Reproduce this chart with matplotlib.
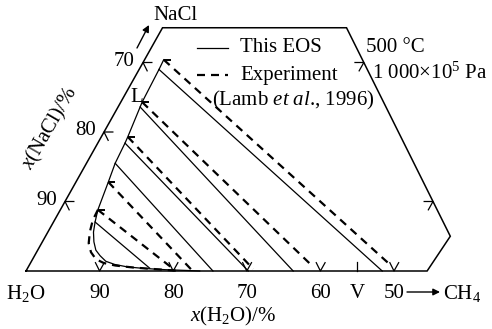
import matplotlib.pyplot as plt

plt.rcParams['font.family'] = ['Liberation Serif', 'DejaVu Serif']
plt.rcParams['mathtext.fontset'] = 'custom'
plt.rcParams['mathtext.rm'] = 'Liberation Serif'
plt.rcParams['mathtext.it'] = 'Liberation Serif:italic'
plt.rcParams['font.size'] = 15

# all compositions are (x(H2O), x(NaCl)) in %, x(CH4) is the rest
SKEW = 0.53

# liquid branch of the solvus
l_model_h = [67.0, 68.3, 72.8, 73.4, 77.1, 77.9, 80.6, 82.8, 86.1, 87.3, 88.2, 88.8, 89.1,
             88.9, 88.5, 87.5, 85.9, 83.7, 81.0, 77.7, 76.4]
l_model_n = [30.4, 29.0, 24.3, 23.6, 19.3, 18.4, 15.5, 12.8, 8.8, 7.05, 5.6, 4.2, 3.0,
             2.2, 1.4, 0.94, 0.58, 0.36, 0.19, 0.06, 0.0]
l_exp_h = [86.1, 87.5, 88.7, 89.6, 89.9, 89.7, 88.9, 87.5, 85.2, 81.7, 79.1]
l_exp_n = [8.8, 7.3, 5.6, 4.0, 2.7, 1.7, 1.15, 0.79, 0.5, 0.22, 0.0]

# tie lines, liquid end -> vapour end
tie_model_liq_h = [68.3, 73.4, 77.9, 80.6, 87.3]
tie_model_liq_n = [29.0, 23.6, 18.4, 15.5, 7.05]
tie_model_vap_h = [51.6, 63.7, 69.8, 74.6, 83.0]
tie_model_vap_n = [0.0, 0.0, 0.0, 0.0, 0.4]

tie_exp_liq_h = [67.0, 72.8, 77.1, 82.8, 86.1]
tie_exp_liq_n = [30.4, 24.3, 19.3, 12.8, 8.8]
tie_exp_vap_h = [50.1, 60.9, 69.0, 77.4, 79.7]
tie_exp_vap_n = [0.9, 1.0, 0.3, 0.1, 0.1]

# cut-out of the triangle that is shown
frame_h = [100, 45.5, 40, 40, 65, 100]
frame_n = [0, 0, 5, 35, 35, 0]

bottom_ticks = [90, 80, 70, 60, 50]
bottom_labels = ['90', '80', '70', '60', '50']
left_ticks = [10, 20, 30]
left_labels = ['90', '80', '70']
right_edge_h = 40
right_ticks = [10, 30]
vapour_h = 55

TL = 1.2  # tick length in %


def proj(h, n):
    c = 100 - h - n
    return c + SKEW * n, n


def line(ax, hs, ns, **kw):
    pts = [proj(h, n) for h, n in zip(hs, ns)]
    xs = [p[0] for p in pts]
    ys = [p[1] for p in pts]
    return ax.plot(xs, ys, color='black', **kw)


W, H = 492, 329
fig = plt.figure(figsize=(W / 100, H / 100), dpi=100)
ax = fig.add_axes([0, 0, 1, 1])
ax.set_xlim(-26 / 7.36, (W - 26) / 7.36)
ax.set_ylim(-(H - 271) / 6.95, 271 / 6.95)
ax.axis('off')

dash = (0, (3.6, 2.7))

line(ax, frame_h, frame_n, lw=1.1, solid_joinstyle='miter')
line(ax, l_model_h, l_model_n, lw=0.9)
line(ax, l_exp_h, l_exp_n, lw=1.6, linestyle=dash)

for h0, n0, h1, n1 in zip(tie_model_liq_h, tie_model_liq_n, tie_model_vap_h, tie_model_vap_n):
    line(ax, [h0, h1], [n0, n1], lw=0.9)
for h0, n0, h1, n1 in zip(tie_exp_liq_h, tie_exp_liq_n, tie_exp_vap_h, tie_exp_vap_n):
    line(ax, [h0, h1], [n0, n1], lw=1.6, linestyle=dash)
    x0, y0 = proj(h0, n0)
    ax.plot([x0], [y0], marker=1, ms=5, mew=1.4, color='black')

# ticks
for h, lbl in zip(bottom_ticks, bottom_labels):
    line(ax, [h, h, h - TL], [TL, 0, TL], lw=0.9)
    ax.annotate(lbl, proj(h, 0), xytext=(0, -16), textcoords='offset points',
                ha='center', va='center')
for n, lbl in zip(left_ticks, left_labels):
    h = 100 - n
    line(ax, [h - TL, h, h], [n, n, n - TL], lw=0.9)
    ax.annotate(lbl, proj(h, n), xytext=(-6, 1), textcoords='offset points',
                ha='right', va='center')
for n in right_ticks:
    line(ax, [right_edge_h + TL, right_edge_h, right_edge_h + TL], [n, n, n - TL], lw=0.9)

xv, _ = proj(vapour_h, 0)
ax.plot([xv, xv], [0, 1.3], color='black', lw=0.9)
ax.annotate('V', (xv, 0), xytext=(0, -16), textcoords='offset points', ha='center', va='center')
ax.annotate('H$_2$O', proj(100, 0), xytext=(0, -16), textcoords='offset points',
            ha='center', va='center')
ax.annotate('L', proj(72.8, 24.3), xytext=(-4, 3.5), textcoords='offset points',
            ha='center', va='center')

# CH4 arrow
ax.annotate('', xy=(440 / W, 1 - 292 / H), xytext=(407 / W, 1 - 292 / H),
            xycoords='figure fraction', textcoords='figure fraction',
            arrowprops=dict(arrowstyle='-|>', color='black', lw=1.0, mutation_scale=10,
                            shrinkA=0, shrinkB=0))
fig.text(443 / W, 1 - 293 / H, 'CH$_4$', ha='left', va='center')

# NaCl arrow
ax.annotate('', xy=(149 / W, 1 - 25 / H), xytext=(137 / W, 1 - 48 / H),
            xycoords='figure fraction', textcoords='figure fraction',
            arrowprops=dict(arrowstyle='-|>', color='black', lw=1.0, mutation_scale=10,
                            shrinkA=0, shrinkB=0))
fig.text(153 / W, 1 - 15 / H, 'NaCl', ha='left', va='center')

fig.text(233 / W, 1 - 316 / H, '$x$(H$_2$O)/%', ha='center', va='center')
fig.text(50 / W, 1 - 128 / H, '$x$(NaCl)/%', ha='center', va='center', rotation=60)

# legend
ax.plot([197 / W, 228 / W], [1 - 48 / H, 1 - 48 / H], color='black', lw=0.9,
        transform=fig.transFigure)
ax.plot([197 / W, 228 / W], [1 - 75 / H, 1 - 75 / H], color='black', lw=1.6,
        linestyle=dash, transform=fig.transFigure)
fig.text(240 / W, 1 - 48 / H, 'This EOS', ha='left', va='center')
fig.text(240 / W, 1 - 75 / H, 'Experiment', ha='left', va='center')
fig.text(212 / W, 1 - 100 / H, r'(Lamb $\mathit{et\ al}$., 1996)', ha='left', va='center')

fig.text(366 / W, 1 - 48 / H, '500 °C', ha='left', va='center')
fig.text(372 / W, 1 - 73 / H, '1 000×10$^5$ Pa', ha='left', va='center')

fig.savefig('out.png', dpi=100)
